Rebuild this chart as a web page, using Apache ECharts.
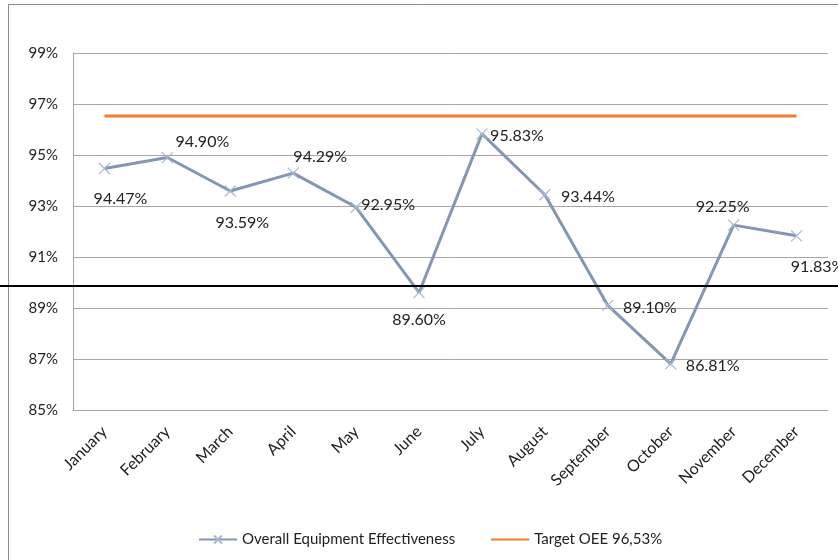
<!DOCTYPE html>
<html>
<head>
<meta charset="utf-8">
<script src="https://cdn.jsdelivr.net/npm/echarts@6/dist/echarts.min.js"></script>
<style>
  html, body { margin: 0; padding: 0; background: #fff; }
  #chart { width: 838px; height: 560px; }
</style>
</head>
<body>
<div id="chart"></div>
<script>
  var months = ['January', 'February', 'March', 'April', 'May', 'June', 'July', 'August', 'September', 'October', 'November', 'December'];
  var oee = [94.47, 94.90, 93.59, 94.29, 92.95, 89.60, 95.83, 93.44, 89.10, 86.81, 92.25, 91.83];
  var target = [96.53, 96.53, 96.53, 96.53, 96.53, 96.53, 96.53, 96.53, 96.53, 96.53, 96.53, 96.53];
  // where each data label sits relative to its point (hand placed in the original)
  var labelOffsets = [[16, 30], [35, -16], [12, 32], [27, -16], [32, -2], [0, 27], [35, 2], [43, 2], [42, 2], [42, 2], [-11, -18], [21, 31]];
  var dividerValue = 89.86;

  var font = 'Lato, "Open Sans", sans-serif';
  var chart = echarts.init(document.getElementById('chart'));

  var oeeData = oee.map(function (v, i) {
    return {
      value: v,
      label: { offset: labelOffsets[i] }
    };
  });

  chart.setOption({
    animation: false,
    textStyle: { fontFamily: font },
    grid: { left: 73, right: 10, top: 53, bottom: 150 },
    legend: {
      left: 193,
      top: 527,
      itemWidth: 38,
      itemHeight: 10,
      itemGap: 35,
      textStyle: { fontSize: 15, color: '#222', fontFamily: font },
      data: [
        { name: 'Overall Equipment Effectiveness' },
        { name: 'Target OEE 96,53%', itemStyle: { opacity: 0 } }
      ]
    },
    xAxis: {
      type: 'category',
      data: months,
      boundaryGap: true,
      axisLine: { lineStyle: { color: '#a6a6a6', width: 1 } },
      axisTick: { show: false },
      axisLabel: { rotate: 45, margin: 19, fontSize: 16, color: '#222', fontFamily: font }
    },
    yAxis: {
      type: 'value',
      min: 85,
      max: 99,
      interval: 2,
      axisLine: { show: true, lineStyle: { color: '#a6a6a6', width: 1 } },
      axisTick: { show: false },
      axisLabel: { margin: 15, fontSize: 15, color: '#222', fontFamily: font, formatter: '{value}%' },
      splitLine: { lineStyle: { color: '#a6a6a6', width: 1 } }
    },
    series: [
      {
        name: 'Overall Equipment Effectiveness',
        type: 'line',
        data: oeeData,
        symbol: 'path://M0,0L10,10M10,0L0,10',
        symbolSize: 11,
        lineStyle: { color: '#8497b0', width: 3 },
        itemStyle: { color: '#a9b8d2', borderColor: '#a9b8d2', borderWidth: 1.2 },
        label: {
          show: true,
          position: 'inside',
          fontSize: 16,
          color: '#222',
          fontFamily: font,
          formatter: function (p) { return p.value.toFixed(2) + '%'; }
        },
        z: 3
      },
      {
        name: 'Target OEE 96,53%',
        type: 'line',
        data: target,
        symbol: 'none',
        lineStyle: { color: '#ed7d31', width: 3 },
        itemStyle: { color: '#ed7d31' },
        z: 2
      }
    ]
  });

  var dividerY = chart.convertToPixel({ yAxisIndex: 0 }, dividerValue);
  chart.setOption({
    graphic: [
      {
        type: 'rect',
        shape: { x: 8.5, y: 4.5, width: 840, height: 600 },
        style: { fill: 'none', stroke: '#8c8c8c', lineWidth: 1 },
        silent: true
      },
      {
        type: 'line',
        shape: { x1: 0, y1: dividerY, x2: 838, y2: dividerY },
        style: { stroke: '#000', lineWidth: 2 },
        silent: true,
        z: 10
      }
    ]
  });
</script>
</body>
</html>
